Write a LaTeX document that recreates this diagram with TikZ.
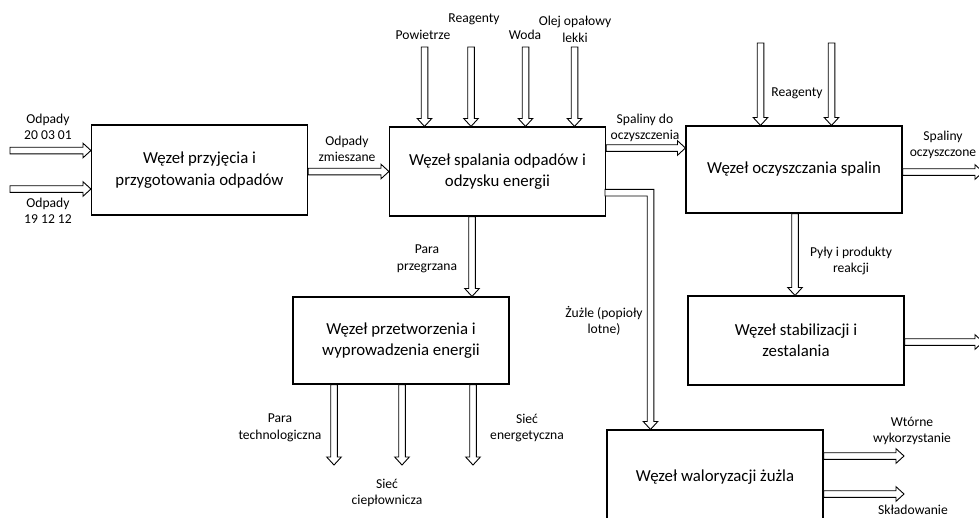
\documentclass[tikz,border=0pt]{standalone}
\usepackage{fontspec}
\setmainfont{Carlito}
\usetikzlibrary{calc}
\def\sw{3.3pt}
\def\hw{7.3pt}
\def\hl{8pt}
\tikzset{
  box/.style={draw, line width=1.1pt, minimum width=216pt, minimum height=88pt,
    align=center, inner sep=0pt, font=\fontsize{16.8}{21.3}\selectfont},
  lbl/.style={align=center, inner sep=0pt, font=\fontsize{13.6}{16.5}\selectfont},
  blockarrow/.style={draw, line width=0.9pt, fill=white, line join=miter},
}
\newcommand\BlockH[2]{%
  \draw[blockarrow] let \p1=(#1), \p2=(#2) in
   (\x1,\y1+\sw) -- (\x2-\hl,\y1+\sw) -- (\x2-\hl,\y1+\hw) -- (\x2,\y1)
   -- (\x2-\hl,\y1-\hw) -- (\x2-\hl,\y1-\sw) -- (\x1,\y1-\sw) -- cycle;}
\newcommand\BlockV[2]{%
  \draw[blockarrow] let \p1=(#1), \p2=(#2) in
   (\x1-\sw,\y1) -- (\x1-\sw,\y2+\hl) -- (\x1-\hw,\y2+\hl) -- (\x1,\y2)
   -- (\x1+\hw,\y2+\hl) -- (\x1+\sw,\y2+\hl) -- (\x1+\sw,\y1) -- cycle;}
\begin{document}
\begin{tikzpicture}[x=1pt,y=-1pt]
\useasboundingbox (0,0) rectangle (979,517);
\clip (0,0) rectangle (979,517);
% boxes
\node[box, minimum height=90pt] (b1) at (199.5,170) {Węzeł przyjęcia i\\przygotowania odpadów};
\node[box, minimum height=89pt] (b2) at (497.5,171.5) {Węzeł spalania odpadów i\\odzysku energii};
\node[box, minimum height=87pt] (b3) at (794,169.5) {Węzeł oczyszczania spalin};
\node[box, minimum height=87pt] (b4) at (401,340.5) {Węzeł przetworzenia i\\wyprowadzenia energii};
\node[box, minimum height=89pt] (b5) at (796,340.5) {Węzeł stabilizacji i\\zestalania};
\node[box, minimum height=94pt] (b6) at (715,477) {Węzeł waloryzacji żużla};
% free ends
\coordinate (in1) at (10,150.5);
\coordinate (in2) at (10,189);
\coordinate (t1) at (424.5,47);
\coordinate (t2) at (471,47);
\coordinate (t3) at (525.5,47);
\coordinate (t4) at (574.5,47);
\coordinate (r1) at (760.5,43);
\coordinate (r2) at (831.5,43);
\coordinate (o1) at (983,172);
\coordinate (o2) at (983,342);
\coordinate (e1) at (334,465);
\coordinate (e2) at (402,465);
\coordinate (e3) at (473,465);
\coordinate (w1) at (904,456);
\coordinate (w2) at (904,494);
\coordinate (zs) at (605,192.7);
\coordinate (zc) at (650.5,192.7);
% arrows
\BlockH{in1}{in1 -| b1.west}
\BlockH{in2}{in2 -| b1.west}
\BlockH{b1.east |- b2.west}{b2.west}
\BlockV{t1}{t1 |- b2.north}
\BlockV{t2}{t2 |- b2.north}
\BlockV{t3}{t3 |- b2.north}
\BlockV{t4}{t4 |- b2.north}
\BlockH{b2.east |- 0,148}{b3.west |- 0,148}
\BlockV{r1}{r1 |- b3.north}
\BlockV{r2}{r2 |- b3.north}
\BlockH{b3.east |- o1}{o1}
\BlockV{b3.south -| 795,0}{b5.north -| 795,0}
\BlockH{b5.east |- o2}{o2}
\BlockV{b2.south -| 472,0}{b4.north -| 472,0}
\BlockV{b4.south -| e1}{e1}
\BlockV{b4.south -| e2}{e2}
\BlockV{b4.south -| e3}{e3}
\BlockH{b6.east |- w1}{w1}
\BlockH{b6.east |- w2}{w2}
\draw[blockarrow] let \p1=(zs), \p2=(zc), \p3=(zc |- b6.north) in
  (\x1,\y1+\sw) -- (\x2+\sw,\y1+\sw) -- (\x2+\sw,\y3+\hl) -- (\x2+\hw,\y3+\hl)
  -- (\x2,\y3) -- (\x2-\hw,\y3+\hl) -- (\x2-\sw,\y3+\hl) -- (\x2-\sw,\y1-\sw)
  -- (\x1,\y1-\sw) -- cycle;
% labels
\node[lbl] (L1) at (48,127) {Odpady\\20 03 01};
\node[lbl] (L2) at (48,211) {Odpady\\19 12 12};
\node[lbl] (L3) at (347,149) {Odpady\\zmieszane};
\node[lbl] (L4) at (423,35.3) {Powietrze};
\node[lbl] (L5) at (474,19.7) {Reagenty};
\node[lbl] (L6) at (525,35) {Woda};
\node[lbl] (L7) at (575,29.5) {Olej opałowy\\lekki};
\node[lbl] (L8) at (645,128) {Spaliny do\\oczyszczenia};
\node[lbl] (L9) at (797,93.7) {Reagenty};
\node[lbl] (L10) at (943,145) {Spaliny\\oczyszczone};
\node[lbl] (L11) at (427,258.6) {Para\\przegrzana};
\node[lbl] (L12) at (604,321) {Żużle (popioły\\lotne)};
\node[lbl] (L13) at (851,261) {Pyły i produkty\\reakcji};
\node[lbl] (L14) at (280,427.7) {Para\\technologiczna};
\node[lbl] (L15) at (387,493) {Sieć\\ciepłownicza};
\node[lbl] (L16) at (527,428) {Sieć\\energetyczna};
\node[lbl] (L17) at (912,431) {Wtórne\\wykorzystanie};
\node[lbl] (L18) at (913,510) {Składowanie};
\end{tikzpicture}
\end{document}
